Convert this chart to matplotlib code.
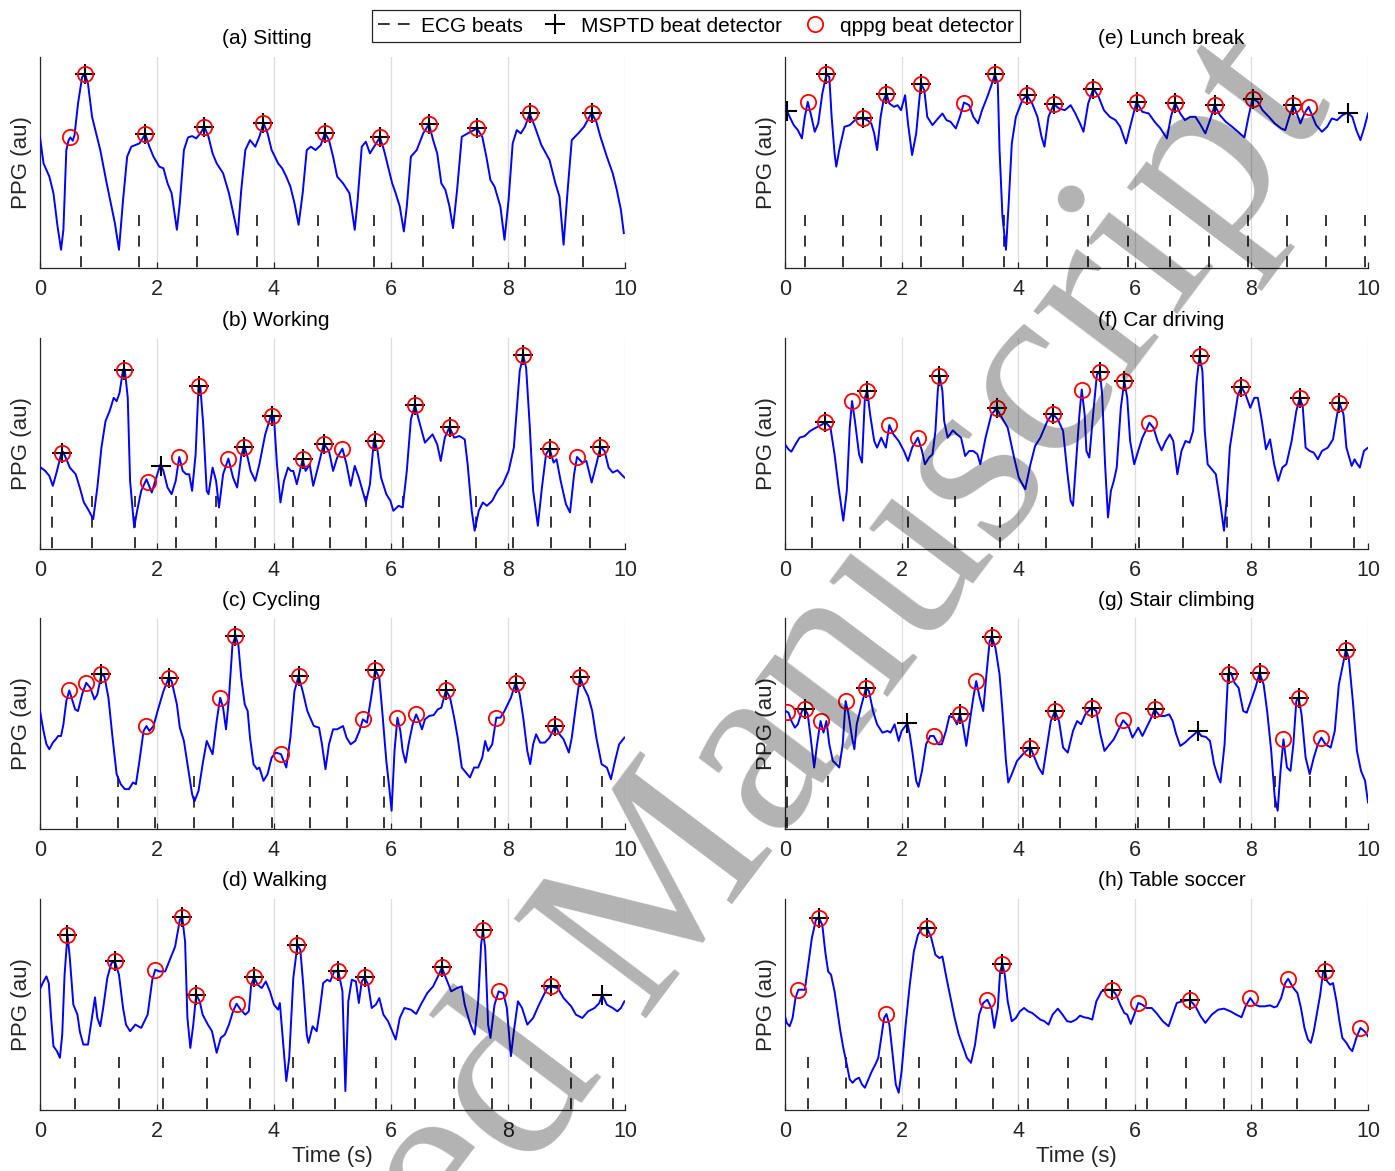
import numpy as np
import matplotlib
matplotlib.use("Agg")
import matplotlib.pyplot as plt
from matplotlib.lines import Line2D

plt.rcParams['font.family'] = ['Liberation Sans', 'DejaVu Sans']

# ---------------------------------------------------------------------------
# PPG traces as (time [s], amplitude [au]) pairs, beat times in seconds
# ---------------------------------------------------------------------------
sitting_ppg = [
    (0.00, 393), (0.06, 315), (0.16, 275), (0.23, 225), (0.30, 125), (0.36, 55), (0.40, 115),
    (0.45, 355), (0.49, 385), (0.52, 393), (0.56, 383), (0.59, 400), (0.65, 495), (0.72, 575),
    (0.77, 583), (0.82, 555), (0.89, 455), (0.96, 405), (1.03, 355), (1.14, 255), (1.21, 195),
    (1.28, 135), (1.35, 55), (1.42, 205), (1.49, 335), (1.56, 365), (1.70, 375), (1.80, 403),
    (1.87, 365), (1.94, 335), (2.04, 305), (2.11, 300), (2.18, 255), (2.25, 225), (2.34, 115),
    (2.39, 195), (2.46, 355), (2.53, 393), (2.60, 397), (2.67, 390), (2.74, 405), (2.81, 425),
    (2.88, 395), (2.95, 345), (3.02, 315), (3.13, 285), (3.23, 225), (3.34, 135), (3.38, 100),
    (3.44, 235), (3.51, 355), (3.59, 385), (3.68, 365), (3.75, 395), (3.82, 437), (3.89, 405),
    (3.96, 355), (4.07, 315), (4.14, 300), (4.21, 275), (4.28, 245), (4.35, 195), (4.42, 130),
    (4.49, 225), (4.56, 355), (4.63, 365), (4.71, 355), (4.80, 370), (4.87, 407), (4.94, 385),
    (5.01, 335), (5.08, 275), (5.18, 255), (5.29, 225), (5.38, 115), (5.43, 205), (5.50, 365),
    (5.57, 380), (5.64, 345), (5.71, 365), (5.81, 393), (5.88, 355), (5.95, 305), (6.02, 255),
    (6.08, 225), (6.15, 185), (6.22, 110), (6.27, 185), (6.34, 335), (6.44, 355), (6.55, 405),
    (6.65, 433), (6.72, 385), (6.79, 345), (6.86, 255), (6.93, 235), (7.00, 185), (7.06, 120),
    (7.13, 235), (7.21, 395), (7.31, 405), (7.47, 420), (7.56, 395), (7.63, 335), (7.70, 265),
    (7.77, 245), (7.87, 185), (7.94, 85), (8.01, 205), (8.08, 375), (8.15, 415), (8.22, 405),
    (8.29, 425), (8.37, 465), (8.46, 425), (8.57, 370), (8.71, 325), (8.81, 255), (8.88, 215),
    (8.95, 70), (9.02, 235), (9.09, 385), (9.20, 405), (9.30, 425), (9.43, 467), (9.51, 440),
    (9.58, 395), (9.69, 335), (9.79, 285), (9.86, 235), (9.93, 175), (9.98, 105),
]
sitting_ecg = [0.70, 1.70, 2.68, 3.71, 4.75, 5.71, 6.55, 7.40, 8.29, 9.29]
sitting_msptd = [0.77, 1.80, 2.81, 3.82, 4.87, 5.81, 6.65, 7.47, 8.37, 9.43]
sitting_qppg = [0.52, 0.77, 1.80, 2.81, 3.82, 4.87, 5.81, 6.65, 7.47, 8.37, 9.43]

working_ppg = [
    (0.00, 247), (0.09, 235), (0.16, 220), (0.22, 190), (0.29, 235), (0.36, 285), (0.39, 293),
    (0.44, 275), (0.51, 245), (0.61, 225), (0.68, 185), (0.75, 140), (0.82, 120), (0.91, 90),
    (0.98, 185), (1.05, 305), (1.12, 385), (1.19, 415), (1.26, 455), (1.31, 445), (1.36, 470),
    (1.42, 540), (1.45, 540), (1.50, 455), (1.54, 205), (1.61, 65), (1.66, 115), (1.73, 175),
    (1.82, 210), (1.91, 170), (1.97, 205), (2.06, 255), (2.11, 235), (2.18, 185), (2.25, 165),
    (2.32, 205), (2.38, 277), (2.44, 235), (2.50, 225), (2.55, 225), (2.60, 175), (2.66, 285),
    (2.71, 490), (2.74, 490), (2.79, 375), (2.85, 175), (2.88, 165), (2.95, 245), (3.01, 205),
    (3.06, 125), (3.13, 225), (3.22, 272), (3.30, 215), (3.37, 185), (3.44, 280), (3.49, 312),
    (3.55, 275), (3.60, 235), (3.68, 205), (3.75, 255), (3.85, 345), (3.95, 402), (4.00, 395),
    (4.05, 255), (4.11, 140), (4.17, 205), (4.24, 245), (4.29, 235), (4.33, 235), (4.39, 195),
    (4.49, 270), (4.54, 235), (4.61, 255), (4.67, 190), (4.75, 245), (4.85, 317), (4.94, 295),
    (5.01, 235), (5.08, 275), (5.17, 302), (5.24, 255), (5.31, 190), (5.38, 250), (5.45, 215),
    (5.57, 140), (5.64, 195), (5.71, 332), (5.77, 295), (5.83, 215), (5.92, 165), (5.99, 145),
    (6.04, 115), (6.13, 130), (6.20, 125), (6.27, 235), (6.34, 390), (6.41, 433), (6.48, 385),
    (6.58, 320), (6.71, 345), (6.79, 315), (6.85, 265), (6.92, 335), (7.00, 367), (7.08, 335),
    (7.17, 340), (7.26, 330), (7.31, 255), (7.38, 115), (7.43, 55), (7.50, 115), (7.57, 140),
    (7.64, 130), (7.73, 145), (7.82, 175), (7.91, 195), (8.01, 235), (8.10, 305), (8.20, 535),
    (8.26, 583), (8.31, 545), (8.37, 375), (8.43, 175), (8.51, 70), (8.58, 185), (8.65, 285),
    (8.71, 302), (8.78, 260), (8.83, 270), (8.90, 205), (8.99, 135), (9.06, 110), (9.13, 225),
    (9.18, 277), (9.27, 260), (9.34, 265), (9.43, 200), (9.51, 255), (9.58, 307), (9.65, 295),
    (9.72, 245), (9.79, 230), (9.87, 237), (9.99, 215),
]
working_ecg = [0.21, 0.89, 1.62, 2.33, 3.00, 3.67, 4.32, 4.96, 5.58, 6.20, 6.82, 7.45, 8.08,
               8.74, 9.40]
working_msptd = [0.38, 1.44, 2.07, 2.72, 3.48, 3.97, 4.49, 4.85, 5.72, 6.41, 7.00, 8.26, 8.71,
                 9.58]
working_qppg = [0.38, 1.44, 1.84, 2.38, 2.72, 3.22, 3.48, 3.97, 4.49, 4.85, 5.17, 5.72, 6.41,
                7.00, 8.26, 8.71, 9.18, 9.58]

cycling_ppg = [
    (0.00, 355), (0.06, 295), (0.11, 255), (0.16, 240), (0.22, 260), (0.27, 270), (0.31, 280),
    (0.36, 280), (0.40, 315), (0.45, 385), (0.50, 417), (0.54, 395), (0.60, 360), (0.65, 355),
    (0.72, 405), (0.79, 440), (0.86, 425), (0.93, 390), (0.98, 405), (1.05, 465), (1.10, 460),
    (1.17, 395), (1.24, 275), (1.31, 165), (1.38, 135), (1.45, 120), (1.52, 120), (1.59, 140),
    (1.64, 135), (1.70, 205), (1.77, 295), (1.82, 310), (1.87, 295), (1.94, 310), (2.01, 355),
    (2.11, 415), (2.20, 455), (2.25, 445), (2.34, 375), (2.39, 305), (2.46, 265), (2.53, 185),
    (2.60, 105), (2.64, 83), (2.71, 115), (2.78, 195), (2.85, 265), (2.90, 245), (2.95, 225),
    (3.02, 325), (3.08, 395), (3.13, 365), (3.18, 300), (3.23, 395), (3.29, 555), (3.34, 580),
    (3.39, 555), (3.44, 455), (3.50, 375), (3.55, 355), (3.59, 275), (3.65, 195), (3.71, 180),
    (3.75, 185), (3.82, 145), (3.89, 165), (3.96, 215), (4.03, 230), (4.12, 225), (4.21, 185),
    (4.28, 275), (4.35, 415), (4.42, 460), (4.49, 415), (4.57, 355), (4.68, 310), (4.77, 305),
    (4.82, 255), (4.88, 180), (4.94, 255), (5.01, 300), (5.08, 300), (5.18, 310), (5.24, 275),
    (5.31, 255), (5.39, 265), (5.46, 295), (5.52, 330), (5.59, 320), (5.66, 395), (5.73, 480),
    (5.80, 455), (5.85, 355), (5.92, 205), (5.97, 125), (6.01, 55), (6.06, 235), (6.11, 335),
    (6.16, 295), (6.20, 235), (6.25, 200), (6.30, 255), (6.37, 315), (6.43, 345), (6.48, 325),
    (6.53, 300), (6.58, 330), (6.65, 340), (6.73, 343), (6.80, 360), (6.86, 365), (6.94, 418),
    (7.01, 395), (7.08, 335), (7.14, 275), (7.21, 185), (7.28, 170), (7.35, 155), (7.42, 185),
    (7.49, 185), (7.56, 215), (7.61, 265), (7.66, 235), (7.73, 255), (7.80, 335), (7.87, 335),
    (7.94, 355), (8.05, 395), (8.13, 440), (8.20, 405), (8.26, 335), (8.33, 235), (8.38, 195),
    (8.43, 255), (8.48, 285), (8.55, 260), (8.63, 260), (8.71, 275), (8.81, 310), (8.88, 285),
    (8.95, 270), (9.04, 230), (9.09, 275), (9.18, 395), (9.23, 457), (9.30, 425), (9.37, 400),
    (9.44, 355), (9.51, 275), (9.60, 195), (9.69, 185), (9.76, 150), (9.83, 205), (9.90, 255),
    (9.99, 275),
]
cycling_ecg = [0.63, 1.33, 1.97, 2.63, 3.30, 3.96, 4.61, 5.25, 5.88, 6.51, 7.15, 7.77, 8.39,
               9.01, 9.60]
cycling_msptd = [1.05, 2.20, 3.34, 4.42, 5.73, 6.94, 8.13, 8.81, 9.23]
cycling_qppg = [0.50, 0.79, 1.05, 1.82, 2.20, 3.08, 3.34, 4.12, 4.42, 5.52, 5.73, 6.11, 6.43,
                6.94, 7.80, 8.13, 8.81, 9.23]

walking_ppg = [
    (0.00, 364), (0.06, 387), (0.11, 402), (0.15, 382), (0.19, 277), (0.23, 192), (0.29, 177),
    (0.34, 157), (0.38, 227), (0.42, 407), (0.47, 527), (0.51, 457), (0.57, 317), (0.64, 287),
    (0.68, 237), (0.74, 197), (0.82, 197), (0.87, 257), (0.94, 339), (0.98, 277), (1.03, 252),
    (1.08, 307), (1.15, 397), (1.22, 442), (1.28, 447), (1.35, 407), (1.42, 307), (1.47, 257),
    (1.54, 237), (1.63, 257), (1.73, 247), (1.84, 287), (1.92, 392), (1.97, 422), (2.04, 417),
    (2.14, 417), (2.22, 452), (2.31, 492), (2.39, 572), (2.43, 582), (2.48, 507), (2.52, 277),
    (2.57, 187), (2.62, 257), (2.67, 347), (2.73, 327), (2.78, 287), (2.87, 257), (2.94, 237),
    (3.02, 172), (3.09, 217), (3.16, 227), (3.23, 257), (3.30, 297), (3.36, 320), (3.43, 302),
    (3.51, 287), (3.57, 297), (3.61, 377), (3.66, 399), (3.72, 377), (3.79, 367), (3.86, 387),
    (3.93, 357), (4.00, 317), (4.07, 302), (4.10, 322), (4.15, 217), (4.21, 87), (4.26, 157),
    (4.33, 397), (4.40, 497), (4.45, 482), (4.50, 377), (4.56, 227), (4.59, 202), (4.66, 252),
    (4.73, 237), (4.78, 297), (4.84, 382), (4.91, 392), (4.96, 387), (5.03, 417), (5.10, 417),
    (5.17, 357), (5.22, 57), (5.27, 327), (5.33, 392), (5.40, 387), (5.45, 322), (5.50, 387),
    (5.55, 399), (5.61, 377), (5.67, 307), (5.74, 317), (5.80, 337), (5.87, 287), (5.95, 267),
    (6.02, 237), (6.08, 212), (6.15, 277), (6.23, 307), (6.34, 302), (6.43, 289), (6.51, 317),
    (6.62, 352), (6.72, 372), (6.83, 412), (6.87, 429), (6.94, 397), (7.03, 357), (7.13, 367),
    (7.21, 372), (7.26, 317), (7.34, 267), (7.38, 247), (7.43, 227), (7.49, 327), (7.54, 497),
    (7.57, 542), (7.61, 487), (7.66, 257), (7.70, 217), (7.77, 317), (7.84, 357), (7.92, 352),
    (7.98, 307), (8.05, 162), (8.10, 237), (8.17, 327), (8.24, 307), (8.33, 257), (8.43, 277),
    (8.53, 317), (8.67, 367), (8.74, 372), (8.85, 367), (8.95, 337), (9.08, 312), (9.16, 287),
    (9.27, 277), (9.37, 297), (9.48, 307), (9.56, 322), (9.61, 347), (9.69, 317), (9.79, 307),
    (9.87, 297), (9.93, 307), (9.99, 327),
]
walking_ecg = [0.60, 1.35, 2.10, 2.85, 3.59, 4.33, 5.05, 5.74, 6.41, 7.07, 7.73, 8.40, 9.08,
               9.79]
walking_msptd = [0.47, 1.28, 2.43, 2.67, 3.66, 4.40, 5.10, 5.55, 6.87, 7.57, 8.74, 9.61]
walking_qppg = [0.47, 1.28, 1.97, 2.43, 2.67, 3.36, 3.66, 4.40, 5.10, 5.55, 6.87, 7.57, 7.84,
                8.74]

lunch_ppg = [
    (0.00, 485), (0.08, 455), (0.15, 430), (0.22, 415), (0.29, 390), (0.34, 455), (0.39, 500),
    (0.44, 465), (0.51, 410), (0.57, 435), (0.64, 525), (0.71, 583), (0.76, 575), (0.80, 455),
    (0.85, 345), (0.88, 305), (0.93, 355), (1.02, 425), (1.11, 430), (1.20, 445), (1.29, 450),
    (1.34, 450), (1.41, 445), (1.48, 435), (1.53, 405), (1.58, 355), (1.64, 455), (1.69, 505),
    (1.74, 525), (1.79, 495), (1.87, 485), (1.93, 490), (1.99, 475), (2.06, 520), (2.11, 435),
    (2.18, 340), (2.25, 405), (2.33, 555), (2.39, 535), (2.44, 455), (2.53, 430), (2.60, 445),
    (2.70, 465), (2.77, 445), (2.84, 440), (2.93, 420), (3.00, 455), (3.07, 498), (3.16, 490),
    (3.23, 455), (3.31, 435), (3.38, 475), (3.47, 515), (3.54, 550), (3.60, 583), (3.65, 555),
    (3.68, 355), (3.73, 155), (3.79, 55), (3.84, 205), (3.89, 375), (3.96, 455), (4.07, 505),
    (4.15, 520), (4.24, 495), (4.33, 455), (4.40, 395), (4.45, 365), (4.52, 455), (4.61, 493),
    (4.70, 480), (4.80, 475), (4.90, 490), (4.98, 465), (5.06, 435), (5.12, 410), (5.20, 495),
    (5.29, 540), (5.38, 515), (5.47, 475), (5.57, 455), (5.67, 445), (5.75, 425), (5.85, 375),
    (5.92, 425), (6.03, 500), (6.13, 470), (6.24, 465), (6.34, 440), (6.44, 420), (6.55, 390),
    (6.62, 455), (6.69, 497), (6.78, 465), (6.86, 445), (6.95, 455), (7.04, 455), (7.13, 430),
    (7.21, 405), (7.30, 450), (7.37, 490), (7.46, 460), (7.56, 440), (7.67, 425), (7.77, 410),
    (7.88, 393), (7.95, 455), (8.02, 510), (8.11, 500), (8.19, 475), (8.30, 455), (8.40, 435),
    (8.51, 420), (8.58, 415), (8.65, 455), (8.72, 492), (8.79, 460), (8.84, 435), (8.91, 465),
    (8.98, 485), (9.04, 460), (9.11, 430), (9.21, 410), (9.30, 425), (9.38, 450), (9.47, 445),
    (9.56, 460), (9.65, 467), (9.73, 455), (9.80, 415), (9.87, 385), (9.94, 425), (10.00, 465),
]
lunch_ecg = [0.34, 1.00, 1.65, 2.33, 3.05, 3.75, 4.49, 5.19, 5.89, 6.60, 7.28, 7.95, 8.61,
             9.28, 9.94]
lunch_msptd = [0.03, 0.71, 1.34, 1.74, 2.33, 3.60, 4.15, 4.61, 5.29, 6.03, 6.69, 7.37, 8.02,
               8.72, 9.65]
lunch_qppg = [0.39, 0.71, 1.34, 1.74, 2.33, 3.07, 3.60, 4.15, 4.61, 5.29, 6.03, 6.69, 7.37,
              8.02, 8.72, 8.98]

driving_ppg = [
    (0.00, 315), (0.06, 300), (0.11, 293), (0.18, 315), (0.25, 335), (0.34, 340), (0.43, 355),
    (0.53, 365), (0.64, 375), (0.69, 383), (0.78, 365), (0.85, 285), (0.92, 185), (1.00, 85),
    (1.06, 175), (1.11, 365), (1.15, 445), (1.20, 385), (1.27, 285), (1.32, 260), (1.37, 455),
    (1.41, 477), (1.46, 405), (1.53, 325), (1.58, 305), (1.65, 335), (1.73, 305), (1.79, 373),
    (1.86, 345), (1.95, 325), (2.04, 295), (2.11, 265), (2.18, 305), (2.28, 335), (2.35, 295),
    (2.40, 255), (2.47, 275), (2.53, 285), (2.58, 355), (2.62, 475), (2.65, 522), (2.70, 475),
    (2.73, 385), (2.79, 335), (2.88, 357), (2.95, 345), (3.02, 335), (3.09, 280), (3.16, 295),
    (3.23, 295), (3.30, 285), (3.35, 255), (3.44, 335), (3.54, 405), (3.63, 423), (3.72, 395),
    (3.82, 365), (3.93, 275), (4.01, 215), (4.12, 180), (4.21, 255), (4.29, 310), (4.38, 335),
    (4.50, 385), (4.59, 407), (4.68, 390), (4.77, 355), (4.84, 235), (4.90, 145), (4.94, 130),
    (4.99, 255), (5.05, 405), (5.09, 480), (5.14, 405), (5.17, 295), (5.22, 275), (5.29, 415),
    (5.35, 525), (5.40, 533), (5.44, 465), (5.49, 255), (5.54, 95), (5.59, 175), (5.64, 205),
    (5.69, 245), (5.76, 425), (5.82, 505), (5.87, 455), (5.92, 325), (5.99, 255), (6.04, 285),
    (6.13, 335), (6.20, 360), (6.25, 380), (6.32, 365), (6.39, 325), (6.46, 297), (6.53, 325),
    (6.60, 345), (6.66, 325), (6.73, 225), (6.80, 295), (6.87, 325), (6.94, 320), (7.00, 355),
    (7.06, 505), (7.11, 580), (7.16, 535), (7.20, 355), (7.25, 255), (7.32, 240), (7.39, 225),
    (7.46, 145), (7.53, 55), (7.58, 155), (7.63, 305), (7.70, 385), (7.77, 465), (7.83, 487),
    (7.90, 465), (7.98, 425), (8.05, 455), (8.11, 455), (8.18, 385), (8.25, 300), (8.32, 330),
    (8.39, 255), (8.46, 205), (8.53, 245), (8.60, 255), (8.69, 325), (8.77, 415), (8.83, 455),
    (8.88, 430), (8.93, 305), (9.00, 295), (9.07, 290), (9.14, 270), (9.21, 295), (9.31, 305),
    (9.40, 330), (9.46, 395), (9.51, 440), (9.58, 405), (9.63, 305), (9.72, 250), (9.77, 270),
    (9.80, 260), (9.86, 245), (9.93, 295), (10.00, 305),
]
driving_ecg = [0.46, 1.29, 2.11, 2.91, 3.69, 4.47, 5.27, 6.07, 6.83, 7.59, 8.31, 9.03, 9.76]
driving_msptd = [0.69, 1.41, 2.65, 3.63, 4.59, 5.40, 5.82, 7.11, 7.83, 8.83, 9.51]
driving_qppg = [0.69, 1.15, 1.41, 1.79, 2.28, 2.65, 3.63, 4.59, 5.09, 5.40, 5.82, 6.25, 7.11,
                7.83, 8.83, 9.51]

stairs_ppg = [
    (0.01, 355), (0.06, 350), (0.11, 325), (0.17, 305), (0.22, 315), (0.29, 355), (0.34, 362),
    (0.39, 345), (0.44, 275), (0.50, 185), (0.55, 255), (0.61, 325), (0.66, 290), (0.71, 325),
    (0.76, 255), (0.82, 205), (0.88, 195), (0.93, 185), (0.99, 255), (1.04, 385), (1.09, 345),
    (1.15, 275), (1.19, 240), (1.23, 315), (1.30, 365), (1.39, 425), (1.44, 415), (1.51, 355),
    (1.58, 315), (1.67, 290), (1.76, 295), (1.81, 290), (1.88, 315), (1.95, 265), (2.00, 295),
    (2.10, 318), (2.14, 285), (2.19, 225), (2.25, 145), (2.29, 127), (2.35, 175), (2.42, 255),
    (2.49, 280), (2.55, 280), (2.63, 255), (2.69, 255), (2.76, 295), (2.82, 340), (2.89, 335),
    (2.95, 315), (3.00, 345), (3.05, 315), (3.11, 250), (3.17, 325), (3.23, 395), (3.28, 445),
    (3.34, 395), (3.40, 355), (3.45, 455), (3.51, 565), (3.55, 577), (3.61, 545), (3.68, 465),
    (3.73, 355), (3.79, 205), (3.83, 140), (3.89, 165), (3.98, 205), (4.08, 225), (4.14, 235),
    (4.21, 245), (4.28, 215), (4.35, 185), (4.42, 165), (4.49, 245), (4.56, 325), (4.63, 355),
    (4.70, 325), (4.77, 245), (4.85, 230), (4.94, 295), (5.01, 325), (5.08, 315), (5.15, 345),
    (5.26, 365), (5.34, 355), (5.41, 285), (5.48, 235), (5.57, 255), (5.64, 270), (5.71, 295),
    (5.80, 327), (5.89, 310), (5.96, 275), (6.01, 290), (6.06, 305), (6.13, 280), (6.20, 305),
    (6.27, 330), (6.34, 360), (6.43, 340), (6.51, 340), (6.59, 345), (6.65, 325), (6.71, 285),
    (6.78, 250), (6.86, 260), (6.95, 275), (7.02, 285), (7.08, 295), (7.14, 280), (7.22, 277),
    (7.29, 265), (7.36, 195), (7.43, 155), (7.47, 140), (7.54, 255), (7.60, 465), (7.65, 470),
    (7.71, 440), (7.78, 425), (7.86, 355), (7.92, 350), (7.99, 385), (8.07, 425), (8.14, 470),
    (8.21, 435), (8.27, 355), (8.34, 235), (8.40, 95), (8.45, 55), (8.50, 175), (8.55, 270),
    (8.61, 185), (8.67, 175), (8.72, 255), (8.77, 385), (8.81, 395), (8.86, 345), (8.93, 215),
    (9.00, 165), (9.07, 215), (9.14, 255), (9.20, 275), (9.27, 255), (9.36, 245), (9.43, 295),
    (9.50, 435), (9.57, 495), (9.62, 540), (9.67, 515), (9.74, 385), (9.81, 235), (9.88, 175),
    (9.95, 145), (10.00, 80),
]
stairs_ecg = [0.04, 0.74, 1.42, 2.11, 2.75, 3.40, 4.08, 4.71, 5.34, 6.06, 6.59, 7.18, 7.81,
              8.40, 9.00, 9.62]
stairs_msptd = [0.34, 1.39, 2.10, 3.00, 3.55, 4.21, 4.63, 5.26, 6.34, 7.08, 7.62, 8.14, 8.81,
                9.62]
stairs_qppg = [0.04, 0.34, 0.61, 1.04, 1.39, 2.55, 3.00, 3.28, 3.55, 4.21, 4.63, 5.26, 5.80,
               6.34, 7.62, 8.14, 8.55, 8.81, 9.20, 9.62]

soccer_ppg = [
    (0.00, 282), (0.03, 262), (0.08, 252), (0.13, 277), (0.18, 337), (0.23, 362), (0.29, 362),
    (0.34, 362), (0.39, 427), (0.46, 517), (0.53, 572), (0.58, 579), (0.64, 557), (0.69, 477),
    (0.74, 417), (0.79, 407), (0.85, 357), (0.90, 297), (0.95, 237), (1.00, 187), (1.06, 137),
    (1.11, 92), (1.16, 82), (1.21, 92), (1.27, 97), (1.32, 77), (1.37, 67), (1.43, 92),
    (1.49, 117), (1.55, 137), (1.60, 157), (1.65, 217), (1.70, 277), (1.74, 289), (1.79, 257),
    (1.84, 177), (1.90, 77), (1.95, 52), (2.00, 117), (2.07, 257), (2.14, 377), (2.21, 477),
    (2.28, 527), (2.35, 547), (2.44, 547), (2.51, 517), (2.58, 467), (2.65, 457), (2.70, 462),
    (2.77, 397), (2.84, 337), (2.91, 277), (2.98, 227), (3.05, 192), (3.12, 157), (3.19, 142),
    (3.26, 197), (3.33, 287), (3.40, 322), (3.47, 332), (3.54, 307), (3.59, 247), (3.65, 307),
    (3.69, 417), (3.73, 439), (3.77, 407), (3.82, 327), (3.89, 267), (3.96, 277), (4.03, 297),
    (4.10, 307), (4.17, 297), (4.24, 292), (4.31, 282), (4.38, 272), (4.45, 267), (4.52, 257),
    (4.59, 287), (4.68, 305), (4.76, 287), (4.84, 267), (4.91, 265), (4.99, 272), (5.06, 284),
    (5.13, 279), (5.20, 277), (5.27, 272), (5.34, 327), (5.43, 357), (5.52, 362), (5.61, 362),
    (5.68, 347), (5.75, 317), (5.82, 292), (5.87, 287), (5.93, 259), (5.99, 287), (6.06, 322),
    (6.13, 317), (6.20, 307), (6.29, 307), (6.37, 292), (6.48, 267), (6.58, 252), (6.65, 287),
    (6.72, 322), (6.81, 327), (6.94, 332), (7.04, 312), (7.13, 282), (7.21, 262), (7.32, 287),
    (7.43, 302), (7.53, 305), (7.64, 297), (7.74, 287), (7.83, 279), (7.90, 312), (7.98, 337),
    (8.06, 317), (8.14, 312), (8.23, 312), (8.32, 315), (8.39, 309), (8.44, 312), (8.51, 337),
    (8.58, 382), (8.63, 395), (8.72, 367), (8.79, 352), (8.85, 307), (8.91, 247), (8.97, 212),
    (9.02, 202), (9.07, 237), (9.12, 287), (9.18, 347), (9.23, 417), (9.26, 419), (9.30, 387),
    (9.35, 377), (9.40, 382), (9.46, 327), (9.51, 267), (9.56, 217), (9.63, 202), (9.68, 187),
    (9.73, 177), (9.80, 217), (9.87, 247), (9.94, 237), (10.00, 222),
]
soccer_ecg = [0.39, 1.04, 1.65, 2.30, 2.93, 3.56, 4.17, 4.86, 5.50, 6.21, 6.87, 7.53, 8.18,
              8.79, 9.44]
soccer_msptd = [0.58, 2.44, 3.73, 5.61, 6.94, 9.26]
soccer_qppg = [0.23, 0.58, 1.74, 2.44, 3.47, 3.73, 5.61, 6.06, 6.94, 7.98, 8.63, 9.26, 9.87]

panels = [
    ("(a) Sitting", sitting_ppg, sitting_ecg, sitting_msptd, sitting_qppg),
    ("(b) Working", working_ppg, working_ecg, working_msptd, working_qppg),
    ("(c) Cycling", cycling_ppg, cycling_ecg, cycling_msptd, cycling_qppg),
    ("(d) Walking", walking_ppg, walking_ecg, walking_msptd, walking_qppg),
    ("(e) Lunch break", lunch_ppg, lunch_ecg, lunch_msptd, lunch_qppg),
    ("(f) Car driving", driving_ppg, driving_ecg, driving_msptd, driving_qppg),
    ("(g) Stair climbing", stairs_ppg, stairs_ecg, stairs_msptd, stairs_qppg),
    ("(h) Table soccer", soccer_ppg, soccer_ecg, soccer_msptd, soccer_qppg),
]

# ---------------------------------------------------------------------------
W, H = 1395, 1171
fig = plt.figure(figsize=(W / 100, H / 100), dpi=100)

DARK = '#262626'
Y_TOP = 635          # au, upper plot limit
ECG_TOP = 158        # au, height of the ECG beat ticks
ECG_DASH = (0, (6.1, 5.3))

col_left = [40, 785]
col_width = [585, 583]
row_top = [57, 338, 618, 899]
ax_h = 211

for k, (title, ppg, ecg, msptd, qppg) in enumerate(panels):
    col, row = divmod(k, 4)
    x0 = col_left[col] / W
    y0 = 1 - (row_top[row] + ax_h) / H
    ax = fig.add_axes([x0, y0, col_width[col] / W, ax_h / H])
    ax.set_facecolor('none')

    t, v = np.array(ppg, dtype=float).T
    # ECG beats drawn top-down so the dash pattern starts at the top
    ax.vlines(ecg, ECG_TOP, 0, colors=DARK, lw=1.3, linestyles=[ECG_DASH], zorder=2)
    ax.plot(t, v, color='#0000ff', lw=1.4, zorder=3)
    ax.plot(msptd, np.interp(msptd, t, v), ls='none', marker='+', color='black',
            ms=14, mew=1.5, zorder=4)
    ax.plot(qppg, np.interp(qppg, t, v), ls='none', marker='o', mfc='none', mec='red',
            ms=11, mew=1.3, zorder=5)

    ax.set_xlim(0, 10)
    ax.set_ylim(0, Y_TOP)
    ax.set_xticks([0, 2, 4, 6, 8, 10])
    ax.set_yticks([])
    ax.grid(axis='x', color='#dedede', lw=0.9)
    ax.set_axisbelow(True)
    for s in ('top', 'right'):
        ax.spines[s].set_visible(False)
    for s in ('left', 'bottom'):
        ax.spines[s].set_color(DARK)
        ax.spines[s].set_linewidth(0.9)
    ax.tick_params(axis='x', direction='in', length=4, width=0.9, color=DARK,
                   labelcolor=DARK, labelsize=15.5, pad=8)
    ax.set_ylabel('PPG (au)', fontsize=16, color=DARK, labelpad=6)
    if row == 3:
        ax.set_xlabel('Time (s)', fontsize=16, color=DARK, labelpad=3)

    title_x = 0.311 if col == 0 else 0.537
    ax.text(title_x, 1 + 18 / ax_h, title, transform=ax.transAxes, ha='left',
            va='center', fontsize=15, color='black')

# shared legend across the top
handles = [
    Line2D([], [], color=DARK, lw=1.3, ls=(0, (6.5, 4.5))),
    Line2D([], [], ls='none', marker='+', color='black', ms=14, mew=1.5),
    Line2D([], [], ls='none', marker='o', mfc='none', mec='red', ms=11, mew=1.3),
]
labels = ['ECG beats', 'MSPTD beat detector', 'qppg beat detector']
leg = fig.legend(handles, labels, loc='center', bbox_to_anchor=(696 / W, 1 - 26 / H),
                 ncol=3, fontsize=15, frameon=True, fancybox=False, framealpha=1,
                 edgecolor=DARK, handlelength=1.65, handletextpad=0.4,
                 columnspacing=0.75, borderpad=0.3)
leg.get_frame().set_linewidth(0.9)

# diagonal stamp over the figure
fig.text(1335 / W, 1 - 104 / H, 'Accepted Manuscript', rotation=53, rotation_mode='anchor',
         ha='right', va='baseline', fontsize=182, family='Liberation Serif',
         color='black', alpha=0.3, zorder=10)

fig.savefig('out.png', dpi=100)
